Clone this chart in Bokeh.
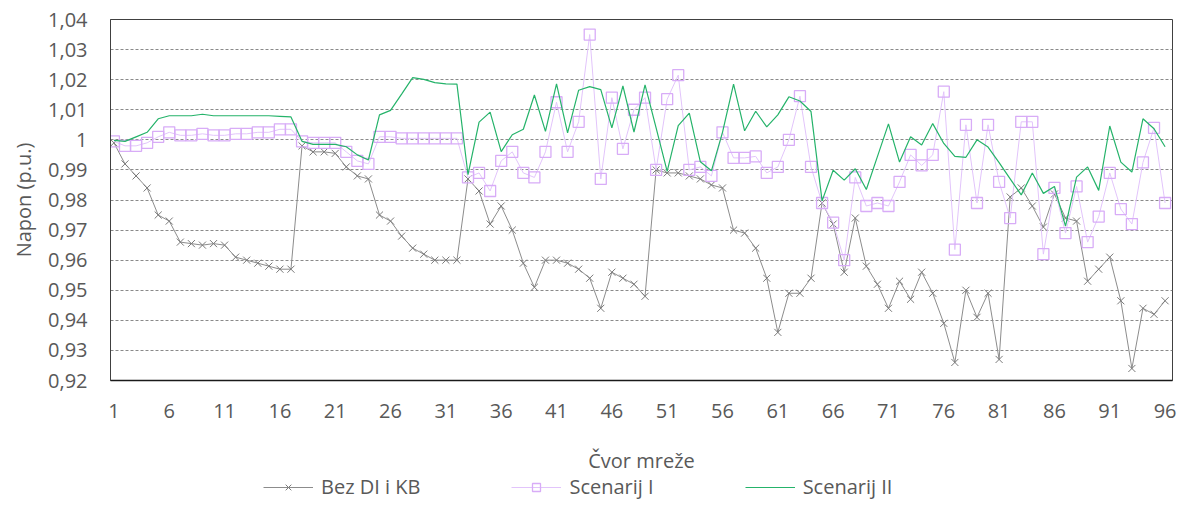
from bokeh.plotting import figure
from bokeh.layouts import column
from bokeh.models import Range1d, FixedTicker, CustomJSTickFormatter, Legend, LegendItem, ColumnDataSource
from bokeh.embed import file_html
from bokeh.resources import INLINE

# ---- data ----
nodes = list(range(1, 97))

bez_di_kb = [
    0.999, 0.992, 0.988, 0.984, 0.975, 0.973, 0.966, 0.9655, 0.965, 0.9655,
    0.965, 0.961, 0.960, 0.959, 0.958, 0.957, 0.957, 0.998, 0.996, 0.996,
    0.9955, 0.991, 0.988, 0.987, 0.975, 0.973, 0.968, 0.964, 0.962, 0.960,
    0.960, 0.960, 0.987, 0.983, 0.972, 0.978, 0.970, 0.959, 0.951, 0.960,
    0.960, 0.959, 0.957, 0.954, 0.944, 0.956, 0.954, 0.952, 0.948, 0.990,
    0.989, 0.989, 0.988, 0.987, 0.985, 0.984, 0.970, 0.969, 0.964, 0.954,
    0.936, 0.949, 0.949, 0.954, 0.979, 0.972, 0.956, 0.974, 0.958, 0.952,
    0.944, 0.953, 0.947, 0.956, 0.949, 0.939, 0.926, 0.950, 0.941, 0.949,
    0.927, 0.981, 0.984, 0.978, 0.971, 0.982, 0.974, 0.973, 0.953, 0.957,
    0.961, 0.9465, 0.924, 0.944, 0.942, 0.9465,
]

scenarij_1 = [
    0.9995, 0.998, 0.998, 0.999, 1.001, 1.0025, 1.0015, 1.0015, 1.002, 1.0015,
    1.0015, 1.002, 1.002, 1.0025, 1.0025, 1.0035, 1.0035, 0.9995, 0.999, 0.999,
    0.999, 0.996, 0.993, 0.992, 1.001, 1.001, 1.0005, 1.0005, 1.0005, 1.0005,
    1.0005, 1.0005, 0.9875, 0.989, 0.983, 0.993, 0.996, 0.989, 0.9875, 0.996,
    1.0125, 0.996, 1.006, 1.035, 0.987, 1.014, 0.997, 1.010, 1.014, 0.990,
    1.0135, 1.0215, 0.990, 0.991, 0.988, 1.0025, 0.994, 0.994, 0.9945, 0.989,
    0.991, 1.000, 1.0145, 0.991, 0.979, 0.9725, 0.960, 0.9875, 0.978, 0.979,
    0.978, 0.986, 0.995, 0.9915, 0.995, 1.016, 0.9635, 1.005, 0.979, 1.005,
    0.986, 0.974, 1.006, 1.006, 0.962, 0.984, 0.969, 0.9845, 0.966, 0.9745,
    0.989, 0.977, 0.972, 0.9925, 1.004, 0.979,
]

scenarij_2 = [
    0.9998, 0.9995, 1.001, 1.0025, 1.007, 1.008, 1.008, 1.008, 1.0085, 1.008,
    1.008, 1.008, 1.008, 1.008, 1.008, 1.0078, 1.0076, 0.9995, 0.9985, 0.9985,
    0.9985, 0.9977, 0.995, 0.9933, 1.0083, 1.0098, 1.0152, 1.0207, 1.0201, 1.019,
    1.0186, 1.0185, 0.9884, 1.0059, 1.0092, 0.9961, 1.0017, 1.0035, 1.0149, 1.0028,
    1.0186, 1.0023, 1.0165, 1.0177, 1.0167, 1.004, 1.0179, 1.0026, 1.0183, 1.004,
    0.9895, 1.0047, 1.0089, 0.9927, 0.9897, 1.0025, 1.0185, 1.003, 1.0095, 1.0043,
    1.0083, 1.0143, 1.0129, 1.0094, 0.9797, 0.9899, 0.9866, 0.9904, 0.9835, 0.9944,
    1.0053, 0.9926, 1.001, 0.9983, 1.0054, 0.9988, 0.9945, 0.9942, 1.0, 0.9976,
    0.9924, 0.987, 0.9817, 0.989, 0.9822, 0.9845, 0.9713, 0.9876, 0.991, 0.9832,
    1.0046, 0.9926, 0.9893, 1.007, 1.0037, 0.9977,
]

x_ticks = list(range(1, 97, 5))
y_ticks = [0.92, 0.93, 0.94, 0.95, 0.96, 0.97, 0.98, 0.99, 1.00, 1.01, 1.02, 1.03, 1.04]
series_names = ["Bez DI i KB", "Scenarij I", "Scenarij II"]
x_title = "Čvor mreže"
y_title = "Napon (p.u.)"

src = ColumnDataSource(dict(x=nodes, a=bez_di_kb, b=scenarij_1, c=scenarij_2))

FONT = "Open Sans"
TXT = "#595959"

GRAY_L, GRAY_M = "#8c8c8c", "#7a7a7a"
PURP_L, PURP_M = "#e2c4fb", "#d8acf7"
GREEN = "#25b36a"

# ---------------- main chart ----------------
p = figure(width=1179, height=476, output_backend="svg", toolbar_location=None,
           x_range=Range1d(0.69, 96.67), y_range=Range1d(0.92, 1.04),
           min_border_left=110, min_border_right=7, min_border_top=19, min_border_bottom=94)

p.background_fill_color = "white"
p.border_fill_color = "white"
p.outline_line_color = "#404040"
p.outline_line_width = 1

p.xgrid.grid_line_color = None
p.ygrid.ticker = FixedTicker(ticks=y_ticks)
p.ygrid.grid_line_color = "#8a8a8a"
p.ygrid.grid_line_dash = "3 2"
p.ygrid.grid_line_width = 1

p.xaxis.ticker = FixedTicker(ticks=x_ticks)
p.yaxis.ticker = FixedTicker(ticks=y_ticks)
p.yaxis.formatter = CustomJSTickFormatter(code="""
    var s = (Math.round(tick * 100) / 100).toString();
    return s.replace('.', ',');
""")
for ax in (p.xaxis[0], p.yaxis[0]):
    ax.major_tick_line_color = None
    ax.minor_tick_line_color = None
    ax.major_tick_out = 0
    ax.major_tick_in = 0
    ax.major_label_text_font = FONT
    ax.major_label_text_font_size = "20px"
    ax.major_label_text_color = TXT
    ax.axis_label_text_font = FONT
    ax.axis_label_text_font_style = "normal"
    ax.axis_label_text_color = TXT

p.xaxis.axis_line_color = "#1a1a1a"
p.xaxis.axis_line_width = 1.5
p.yaxis.axis_line_color = "#404040"
p.xaxis.axis_label = x_title
p.yaxis.axis_label = y_title
p.xaxis.axis_label_text_font_size = "20px"
p.yaxis.axis_label_text_font_size = "20px"
p.xaxis.major_label_standoff = 23
p.xaxis.axis_label_standoff = 26
p.yaxis.major_label_standoff = 23
p.yaxis.axis_label_standoff = 8

p.line("x", "a", source=src, line_color=GRAY_L, line_width=1)
p.scatter("x", "a", source=src, marker="x", size=10, line_color=GRAY_M, line_width=1)
p.line("x", "b", source=src, line_color=PURP_L, line_width=1)
p.scatter("x", "b", source=src, marker="square", size=11, line_color=PURP_M,
          fill_color=None, line_width=1.3)
p.line("x", "c", source=src, line_color=GREEN, line_width=1.2)

# ---------------- legend strip (same series, view range outside the data) ----------------
q = figure(width=1179, height=28, output_backend="svg", toolbar_location=None,
           x_range=Range1d(500, 501), y_range=Range1d(0, 1),
           x_axis_location=None, y_axis_location=None,
           min_border_left=0, min_border_right=0, min_border_top=0, min_border_bottom=0)
q.outline_line_color = None
q.background_fill_color = "white"
q.border_fill_color = "white"
q.xgrid.visible = False
q.ygrid.visible = False
g1 = q.line("x", "a", source=src, line_color=GRAY_L, line_width=1)
g1m = q.scatter("x", "a", source=src, marker="x", size=10, line_color=GRAY_M, line_width=1)
g2 = q.line("x", "b", source=src, line_color=PURP_L, line_width=1)
g2m = q.scatter("x", "b", source=src, marker="square", size=11, line_color=PURP_M,
                fill_color=None, line_width=1.3)
g3 = q.line("x", "c", source=src, line_color=GREEN, line_width=1.2)

legend = Legend(items=[
    LegendItem(label=series_names[0], renderers=[g1, g1m]),
    LegendItem(label=series_names[1], renderers=[g2, g2m]),
    LegendItem(label=series_names[2], renderers=[g3]),
], orientation="horizontal", location=(153, 4))
legend.border_line_color = None
legend.background_fill_alpha = 0
legend.label_text_font = FONT
legend.label_text_font_size = "20px"
legend.label_text_color = TXT
legend.label_height = 20
legend.glyph_width = 50
legend.glyph_height = 20
legend.label_standoff = 8
legend.spacing = 91
legend.padding = 0
legend.margin = 0
q.add_layout(legend, "center")

layout = column(p, q, spacing=0)
open("out.html", "w").write(file_html(layout, INLINE))
